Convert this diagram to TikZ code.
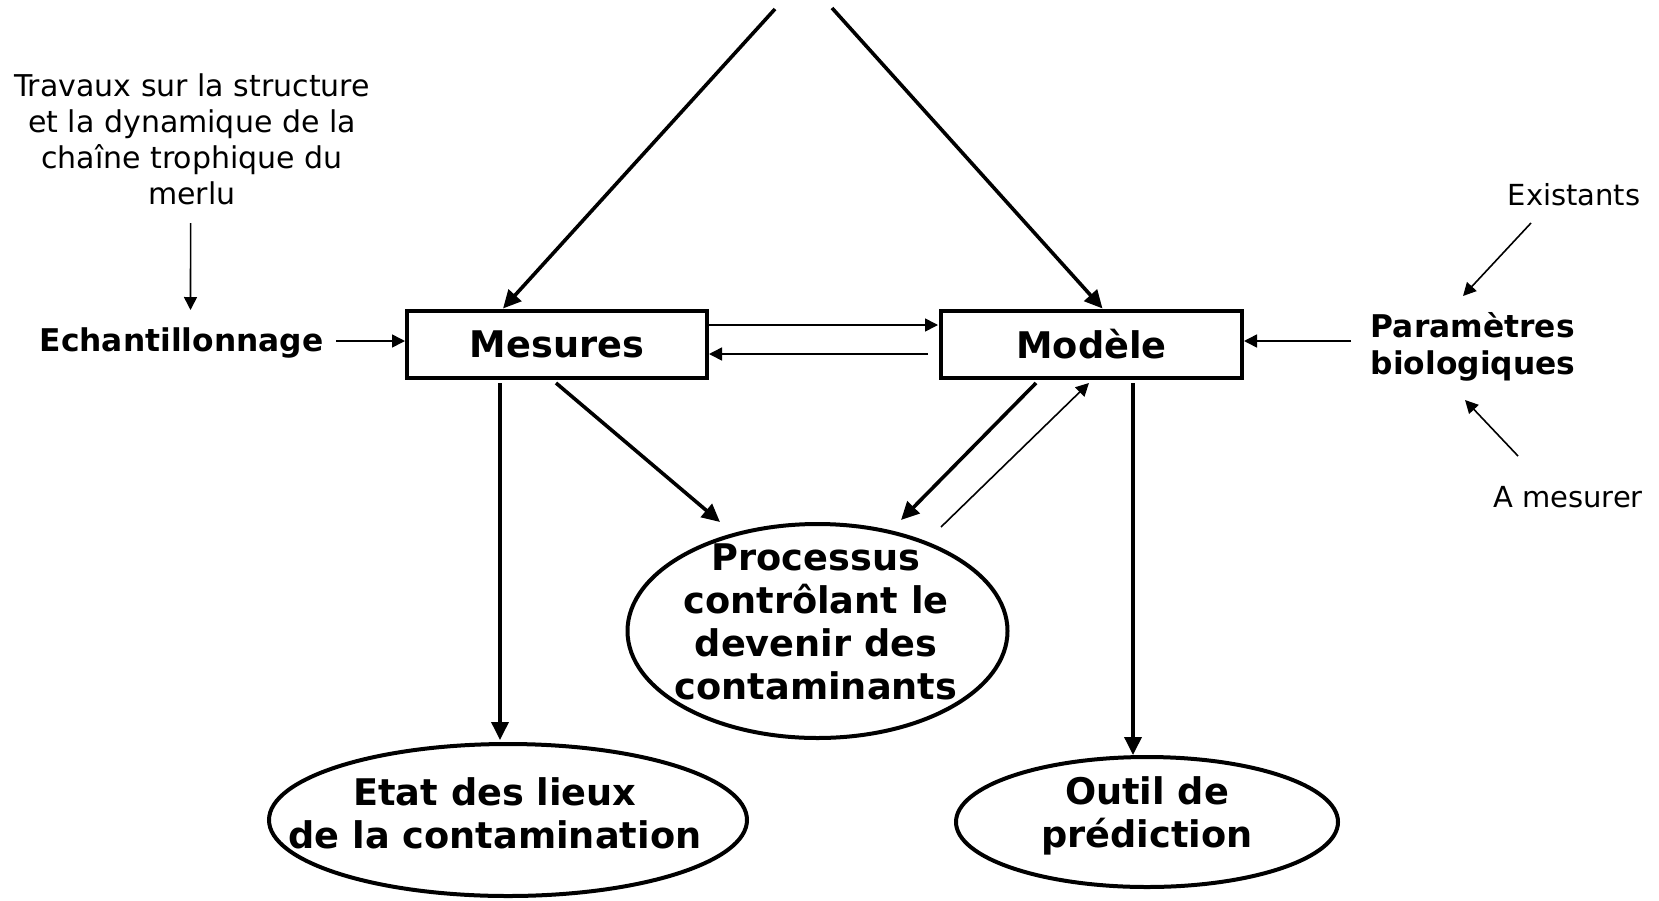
\documentclass[tikz,border=0pt]{standalone}
\usepackage{fontspec}
\setmainfont{DejaVu Sans}
\usetikzlibrary{arrows.meta,shapes.geometric,calc}
\begin{document}
\begin{tikzpicture}[x=1pt,y=-1pt,
  boxn/.style={draw,line width=4.5pt,minimum width=300pt,minimum height=67pt,inner sep=0pt,font=\fontsize{36.7}{43}\selectfont\bfseries},
  elln/.style={draw,ellipse,line width=4pt,inner sep=0pt},
  bigtxt/.style={align=center,font=\fontsize{36.7}{43}\selectfont\bfseries,inner sep=0pt},
  sidetxt/.style={font=\fontsize{31.3}{37}\selectfont\bfseries,inner sep=0pt},
  smalltxt/.style={align=center,font=\fontsize{29}{36}\selectfont,inner sep=0pt},
  thickarr/.style={line width=3.6pt,-{Triangle[length=18pt,width=17pt]}},
  thinarr/.style={line width=1.6pt,-{Triangle[length=13pt,width=13pt]}}
]
\useasboundingbox (0,0) rectangle (1659,900);

% boxes
\node[boxn] (mes) at (557,344.5) {Mesures};
\node[boxn,minimum width=301pt] (mod) at (1091.5,344.5) {Modèle};

% ellipses
\node[elln,minimum width=478pt,minimum height=152pt] (etat) at (508,820) {};
\node[bigtxt] (etatt) at (495,813) {Etat des lieux\\de la contamination};
\node[elln,minimum width=380pt,minimum height=214pt] (proc) at (817.5,631) {};
\node[bigtxt] (proct) at (816,622) {Processus\\contrôlant le\\devenir des\\contaminants};
\node[elln,minimum width=382pt,minimum height=130pt] (out) at (1147,822) {};
\node[bigtxt] (outt) at (1147,816) {Outil de\\prédiction};

% side texts
\node[sidetxt] (ech) at (181.5,343) {Echantillonnage};
\node[smalltxt,font=\fontsize{30}{36}\selectfont] (trav) at (192,139) {Travaux sur la structure\\et la dynamique de la\\chaîne trophique du\\merlu};
\node[sidetxt,align=left] (par) at (1473,347) {Paramètres\\biologiques};
\node[smalltxt] (exi) at (1574,195) {Existants};
\node[smalltxt] (ame) at (1568,497) {A mesurer};

% free ends at top
\coordinate (src1) at (775,9);
\coordinate (src2) at (832,8);

% thick connectors
\draw[thickarr] (src1) -- ($(mes)+(-54,-36)$);
\draw[thickarr] (src2) -- ($(mod)+(11,-36)$);
\draw[thickarr] ($(mes)+(-57,38.5)$) -- ($(etat)+(-8,-80)$);
\draw[thickarr] ($(mes)+(-1,38.5)$) -- ($(proc)+(-97.5,-109)$);
\draw[thickarr] ($(mod)+(-55.5,38.5)$) -- ($(proc)+(83.5,-111)$);
\draw[thickarr] ($(mod)+(41.5,38.5)$) -- ($(out)+(-14,-67)$);

% thin connectors
\draw[thinarr] ($(proc)+(123.5,-104)$) -- ($(mod)+(-2.5,38.5)$);
\draw[thinarr] ($(mes)+(152,-19.5)$) -- ($(mod)+(-153.5,-19.5)$);
\draw[thinarr] ($(mod)+(-163.5,9.5)$) -- ($(mes)+(152,9.5)$);
\draw[thinarr] ($(trav)+(-1.4,84)$) -- ($(ech)+(9,-33)$);
\draw[thinarr] ($(ech)+(154.5,-2)$) -- ($(mes)+(-152,-3.5)$);
\draw[thinarr] ($(par)+(-122,-6)$) -- ($(mod)+(152.5,-3.5)$);
\draw[thinarr] ($(exi)+(-43,28)$) -- ($(par)+(-10,-51)$);
\draw[thinarr] ($(ame)+(-50,-41)$) -- ($(par)+(-8,53)$);
\end{tikzpicture}
\end{document}
